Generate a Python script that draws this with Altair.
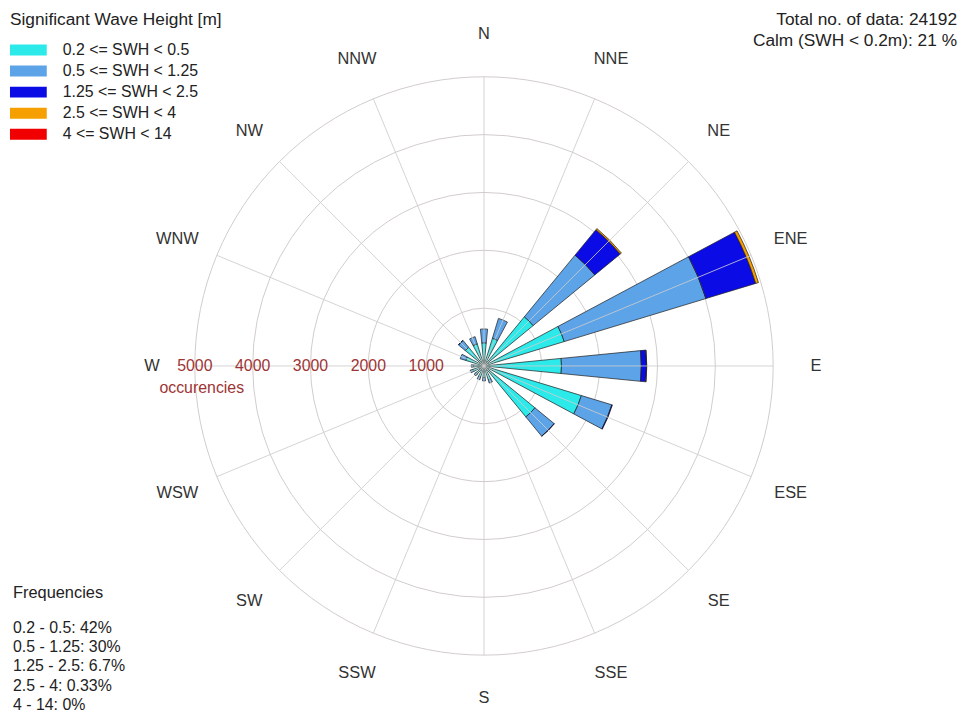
import math
import altair as alt
import pandas as pd

# ---------------- data ----------------
directions = ["N", "NNE", "NE", "ENE", "E", "ESE", "SE", "SSE",
              "S", "SSW", "SW", "WSW", "W", "WNW", "NW", "NNW"]
bins = ["0.2 <= SWH < 0.5", "0.5 <= SWH < 1.25", "1.25 <= SWH < 2.5",
        "2.5 <= SWH < 4", "4 <= SWH < 14"]
colors = ["#2DEAEA", "#5CA3E8", "#0B0BE6", "#F5A000", "#F00000"]

# occurrences per direction (N, NNE, ..., NNW)
swh_02_05 = [400, 500, 1100, 1450, 1340, 1760, 1140, 250, 200, 200, 180, 200, 180, 330, 420, 400]
swh_05_125 = [240, 360, 1380, 2560, 1380, 550, 430, 60, 60, 50, 40, 50, 40, 100, 150, 130]
swh_125_25 = [0, 0, 570, 900, 90, 10, 5, 0, 0, 0, 0, 0, 0, 0, 5, 0]
swh_25_4 = [0, 0, 25, 50, 5, 0, 0, 0, 0, 0, 0, 0, 0, 0, 0, 0]
swh_4_14 = [0, 0, 0, 0, 0, 0, 0, 0, 0, 0, 0, 0, 0, 0, 0, 0]
series = [swh_02_05, swh_05_125, swh_125_25, swh_25_4, swh_4_14]

rings = [1000, 2000, 3000, 4000, 5000]
ring_labels = ["1000", "2000", "3000", "4000", "5000"]

total_data = 24192
calm_pct = 21
freq_ranges = ["0.2 - 0.5", "0.5 - 1.25", "1.25 - 2.5", "2.5 - 4", "4 - 14"]
freq_values = ["42%", "30%", "6.7%", "0.33%", "0%"]

# ---------------- layout constants ----------------
W, H = 956, 705
CX, CY = 479, 358          # centre of the rose in chart pixels
R_PX = 291                 # pixel radius of outer ring
RMAX = rings[-1]
K = RMAX / R_PX            # occurrences per pixel
LABEL_R = 334 * K
SECTOR = 360 / len(directions)
HALF_W = 5.6
FONT = "Liberation Sans"

# ---------------- tables ----------------
rows = []
for i, d in enumerate(directions):
    cum = 0
    for j, (b, vals) in enumerate(zip(bins, series)):
        v = vals[i]
        if v <= 0:
            continue
        rows.append(dict(dir=d, bin=b, order=j,
                         a0=i * SECTOR - HALF_W, a1=i * SECTOR + HALF_W,
                         r0=cum, r1=cum + v))
        cum += v
bars_df = pd.DataFrame(rows)
dir_df = pd.DataFrame({"dir": directions, "angle": [i * SECTOR for i in range(len(directions))]})
ring_df = pd.DataFrame({"r": rings, "label": ring_labels})
legend_df = pd.DataFrame({"bin": bins, "idx": list(range(len(bins)))})
freq_df = pd.DataFrame({"line": [f"{a}: {b}" for a, b in zip(freq_ranges, freq_values)],
                        "idx": list(range(len(freq_ranges)))})

# ---------------- scales ----------------
xs = alt.Scale(domain=[-CX * K, (W - CX) * K], nice=False, zero=False)
ys = alt.Scale(domain=[-(H - CY) * K, CY * K], nice=False, zero=False)
theta_s = alt.Scale(type="linear", domain=[0, 360], range=[0, 2 * math.pi])
r_s = alt.Scale(type="linear", domain=[0, RMAX], range=[0, R_PX], zero=True, nice=False)
color_s = alt.Scale(domain=bins, range=colors)

# ---------------- layers ----------------
circles = alt.Chart(ring_df).mark_arc(fillOpacity=0, stroke="#d2cccc", strokeWidth=1).encode(
    theta=alt.value(0), theta2=alt.value(2 * math.pi),
    radius=alt.Radius("r:Q", scale=r_s, stack=False),
    x=alt.value(CX), y=alt.value(CY),
)

bars = alt.Chart(bars_df).mark_arc(stroke="#1c1c1c", strokeWidth=0.7).encode(
    theta=alt.Theta("a0:Q", scale=theta_s, stack=False),
    theta2="a1:Q",
    radius=alt.Radius("r1:Q", scale=r_s, stack=False),
    radius2="r0:Q",
    color=alt.Color("bin:N", scale=color_s, legend=None),
    order=alt.Order("order:Q"),
    x=alt.value(CX), y=alt.value(CY),
)

spokes = alt.Chart(dir_df).transform_calculate(
    x0="0", y0="0",
    x1=f"{RMAX}*sin(datum.angle*PI/180)",
    y1=f"{RMAX}*cos(datum.angle*PI/180)",
).mark_rule(color="#cccccc", strokeWidth=1, opacity=0.85).encode(
    x=alt.X("x0:Q", scale=xs, axis=None),
    y=alt.Y("y0:Q", scale=ys, axis=None),
    x2="x1:Q", y2="y1:Q",
)

dir_labels = alt.Chart(dir_df).transform_calculate(
    lx=f"{LABEL_R}*sin(datum.angle*PI/180)",
    ly=f"{LABEL_R}*cos(datum.angle*PI/180)",
).mark_text(font=FONT, fontSize=16.5, color="#333333", align="center", baseline="middle").encode(
    x=alt.X("lx:Q", scale=xs, axis=None),
    y=alt.Y("ly:Q", scale=ys, axis=None),
    text="dir:N",
)

ring_text = alt.Chart(ring_df).transform_calculate(
    lx="-datum.r", ly="0",
).mark_text(font=FONT, fontSize=16, color="#9e3434", align="center", baseline="middle").encode(
    x=alt.X("lx:Q", scale=xs, axis=None),
    y=alt.Y("ly:Q", scale=ys, axis=None),
    text="label:N",
)

occ_text = alt.Chart(pd.DataFrame({"t": ["occurencies"]})).mark_text(
    font=FONT, fontSize=16, color="#9e3434", align="center", baseline="middle"
).encode(x=alt.value(195), y=alt.value(380), text="t:N")

# legend (manual)
leg_title = alt.Chart(pd.DataFrame({"t": ["Significant Wave Height [m]"]})).mark_text(
    font=FONT, fontSize=17.4, color="#222222", align="left", baseline="middle"
).encode(x=alt.value(2), y=alt.value(10), text="t:N")

leg_rect = alt.Chart(legend_df).transform_calculate(
    yt="40 + datum.idx*21.2 - 5.5", yb="40 + datum.idx*21.2 + 5.5"
).mark_rect().encode(
    x=alt.value(2), x2=alt.value(39),
    y=alt.Y("yt:Q", scale=None), y2="yb:Q",
    color=alt.Color("bin:N", scale=color_s, legend=None),
)

leg_text = alt.Chart(legend_df).transform_calculate(
    yc="40 + datum.idx*21.2"
).mark_text(font=FONT, fontSize=16, color="#222222", align="left", baseline="middle").encode(
    x=alt.value(55), y=alt.Y("yc:Q", scale=None), text="bin:N",
)

info_text = alt.Chart(pd.DataFrame({"t": [f"Total no. of data: {total_data}",
                                          f"Calm (SWH < 0.2m):  {calm_pct} %"],
                                    "idx": [0, 1]})).transform_calculate(
    yc="10 + datum.idx*21"
).mark_text(font=FONT, fontSize=17.4, color="#222222", align="right", baseline="middle").encode(
    x=alt.value(955), y=alt.Y("yc:Q", scale=None), text="t:N",
)

freq_title = alt.Chart(pd.DataFrame({"t": ["Frequencies"]})).mark_text(
    font=FONT, fontSize=16.5, color="#222222", align="left", baseline="middle"
).encode(x=alt.value(5), y=alt.value(587), text="t:N")

freq_text = alt.Chart(freq_df).transform_calculate(
    yc="622 + datum.idx*19.2"
).mark_text(font=FONT, fontSize=16, color="#222222", align="left", baseline="middle").encode(
    x=alt.value(5), y=alt.Y("yc:Q", scale=None), text="line:N",
)

chart = alt.layer(
    circles, bars, spokes, dir_labels, ring_text, occ_text,
    leg_title, leg_rect, leg_text, info_text, freq_title, freq_text,
).properties(
    width=W, height=H, autosize="none", padding=0, background="white"
).configure_view(strokeWidth=0)

chart.save("out.html", embed_options={"renderer": "svg", "actions": False})
